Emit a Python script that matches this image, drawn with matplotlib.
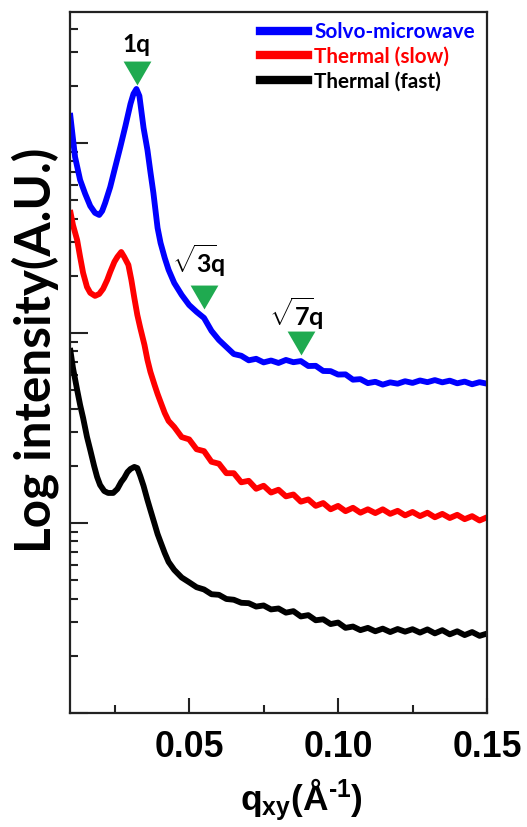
import matplotlib
matplotlib.use("Agg")
import matplotlib.pyplot as plt
import numpy as np
from matplotlib.ticker import LogLocator, NullFormatter, FixedLocator
from matplotlib.lines import Line2D

# ---------------- data (log10 intensity, arbitrary units) ----------------
q_tail = [0.045, 0.0475, 0.05, 0.0525, 0.055, 0.0575, 0.06, 0.0625, 0.065, 0.0675,
          0.07, 0.0725, 0.075, 0.0775, 0.08, 0.0825, 0.085, 0.0875, 0.09, 0.0925,
          0.095, 0.0975, 0.10, 0.1025, 0.105, 0.1075, 0.11, 0.1125, 0.115, 0.1175,
          0.12, 0.1225, 0.125, 0.1275, 0.13, 0.1325, 0.135, 0.1375, 0.14, 0.1425,
          0.145, 0.1475, 0.15]

q_blue_head = [0.0100, 0.0117, 0.0134, 0.0151, 0.0168, 0.0184, 0.0198, 0.0208, 0.0218,
               0.0235, 0.0252, 0.0269, 0.0286, 0.0303, 0.0313, 0.0323, 0.0333, 0.0347,
               0.0360, 0.0370, 0.0380, 0.0394, 0.0404, 0.0418, 0.0431]
logI_blue_head = [3.158, 2.926, 2.805, 2.732, 2.668, 2.632, 2.621, 2.642, 2.684,
                  2.768, 2.874, 2.979, 3.089, 3.205, 3.258, 3.284, 3.247, 3.079,
                  2.963, 2.847, 2.737, 2.553, 2.474, 2.395, 2.332]
logI_blue_tail = [2.263, 2.200, 2.147, 2.111, 2.079, 2.011, 1.963, 1.926, 1.889, 1.880,
                  1.856, 1.864, 1.845, 1.855, 1.842, 1.858, 1.846, 1.852, 1.826, 1.827,
                  1.800, 1.799, 1.781, 1.782, 1.754, 1.757, 1.736, 1.743, 1.728, 1.740,
                  1.733, 1.746, 1.737, 1.750, 1.741, 1.752, 1.740, 1.749, 1.735, 1.744,
                  1.730, 1.741, 1.733]

q_red_head = [0.0100, 0.0110, 0.0124, 0.0134, 0.0144, 0.0157, 0.0168, 0.0184, 0.0198,
              0.0211, 0.0225, 0.0235, 0.0249, 0.0259, 0.0272, 0.0282, 0.0296, 0.0306,
              0.0316, 0.0326, 0.0336, 0.0350, 0.0360, 0.0370, 0.0384, 0.0394, 0.0404,
              0.0418, 0.0431]
logI_red_head = [2.647, 2.568, 2.489, 2.400, 2.316, 2.242, 2.211, 2.195, 2.205,
                 2.232, 2.279, 2.321, 2.374, 2.400, 2.426, 2.400, 2.358, 2.279,
                 2.184, 2.095, 2.026, 1.937, 1.858, 1.795, 1.726, 1.679, 1.637,
                 1.579, 1.537]
logI_red_tail = [1.505, 1.452, 1.440, 1.388, 1.378, 1.322, 1.312, 1.262, 1.262, 1.214,
                 1.222, 1.180, 1.196, 1.160, 1.175, 1.140, 1.150, 1.112, 1.124, 1.090,
                 1.105, 1.072, 1.090, 1.062, 1.080, 1.054, 1.072, 1.052, 1.072, 1.048,
                 1.064, 1.040, 1.058, 1.036, 1.054, 1.030, 1.048, 1.026, 1.043, 1.020,
                 1.036, 1.013, 1.030]

q_black_head = [0.0100, 0.0110, 0.0124, 0.0134, 0.0144, 0.0157, 0.0168, 0.0181, 0.0191,
                0.0201, 0.0215, 0.0228, 0.0245, 0.0259, 0.0272, 0.0282, 0.0293, 0.0303,
                0.0316, 0.0326, 0.0336, 0.0347, 0.0360, 0.0370, 0.0384, 0.0394, 0.0404,
                0.0418, 0.0431]
logI_black_head = [1.921, 1.816, 1.700, 1.621, 1.553, 1.453, 1.384, 1.300, 1.242,
                   1.200, 1.168, 1.158, 1.158, 1.179, 1.216, 1.237, 1.268, 1.284,
                   1.295, 1.289, 1.247, 1.195, 1.121, 1.068, 0.995, 0.942, 0.900,
                   0.842, 0.795]
logI_black_tail = [0.753, 0.713, 0.688, 0.662, 0.650, 0.625, 0.622, 0.600, 0.596, 0.580,
                   0.578, 0.560, 0.566, 0.545, 0.550, 0.528, 0.536, 0.508, 0.515, 0.488,
                   0.493, 0.468, 0.476, 0.448, 0.455, 0.436, 0.448, 0.430, 0.444, 0.426,
                   0.442, 0.428, 0.441, 0.423, 0.440, 0.419, 0.436, 0.414, 0.430, 0.410,
                   0.426, 0.406, 0.418]

series_labels = ["Solvo-microwave", "Thermal (slow)", "Thermal (fast)"]
series_colors = ["#0000ff", "#ff0000", "#000000"]

peak_labels = [r"1q", r"$\sqrt{3}\!$q", r"$\sqrt{7}\!$q"]
peak_q = [0.0326, 0.0551, 0.0875]
peak_marker_logI = [3.368, 2.189, 1.945]
peak_text_q = [0.0323, 0.0532, 0.0860]
peak_text_logI = [3.516, 2.379, 2.100]

xticks = [0.05, 0.10, 0.15]
xtick_labels = ["0.05", "0.10", "0.15"]
xminor = [0.025, 0.075, 0.125]

# ---------------- figure ----------------
plt.rcParams["mathtext.fontset"] = "custom"
plt.rcParams["mathtext.rm"] = "Lato:bold"
plt.rcParams["mathtext.bf"] = "Lato:bold"
plt.rcParams["mathtext.it"] = "Lato:bold"

W, H = 527, 827
fig = plt.figure(figsize=(W / 100, H / 100), dpi=100)
L, R, B, T = 70, 487, 713, 12
ax = fig.add_axes([L / W, 1 - B / H, (R - L) / W, (B - T) / H])

curves = [
    (q_blue_head + q_tail, logI_blue_head + logI_blue_tail),
    (q_red_head + q_tail, logI_red_head + logI_red_tail),
    (q_black_head + q_tail, logI_black_head + logI_black_tail),
]
for (qq, ll), c, lab in zip(curves[::-1], series_colors[::-1], series_labels[::-1]):
    ax.plot(qq, 10 ** np.array(ll), color=c, lw=4.2, label=lab,
            solid_joinstyle="round", solid_capstyle="butt")

ax.set_yscale("log")
ax.set_xlim(0.01, 0.15)
ax.set_ylim(1, 10 ** 3.689)

tri = [(-1, 0.86), (1, 0.86), (0, -0.86)]
for pq, pl in zip(peak_q, peak_marker_logI):
    ax.plot([pq], [10 ** pl], marker=tri, markersize=20, color="#1faa50",
            markeredgewidth=0, linestyle="none")
ann_texts = []
for lab, tq, tl in zip(peak_labels, peak_text_q, peak_text_logI):
    t = ax.text(tq, 10 ** tl, lab, ha="center", va="center", fontsize=17,
                fontweight="bold", family="Lato", color="black")
    ann_texts.append(t)

# ticks
ax.set_xticks(xticks)
ax.set_xticklabels(xtick_labels)
ax.xaxis.set_minor_locator(FixedLocator(xminor))
ax.yaxis.set_major_locator(LogLocator(base=10, numticks=10))
ax.yaxis.set_minor_locator(LogLocator(base=10, subs=np.arange(2, 10), numticks=20))
ax.yaxis.set_major_formatter(NullFormatter())
ax.yaxis.set_minor_formatter(NullFormatter())
ax.tick_params(axis="both", which="both", direction="in", width=1.5, color="#222222")
ax.tick_params(axis="x", which="major", length=11, pad=12)
ax.tick_params(axis="x", which="minor", length=6)
ax.tick_params(axis="y", which="major", length=13)
ax.tick_params(axis="y", which="minor", length=6)
ax.tick_params(top=False, right=False)
for lbl in ax.get_xticklabels():
    lbl.set_fontfamily("Liberation Sans")
    lbl.set_fontweight("bold")
    lbl.set_fontsize(24)
for s in ax.spines.values():
    s.set_linewidth(1.6)
    s.set_color("#222222")

# labels
ylab = fig.text(35 / W, 1 - 350 / H, "Log intensity(A.U.)", rotation=90, ha="center",
                va="center", fontsize=28, fontweight="bold", family="Lato")
xlab = fig.text(301 / W, 1 - 800 / H,
                "q$_{\\mathregular{xy}}$(Å$^{\\mathregular{\u2010 1}}$)",
                ha="center", va="center", fontsize=26, fontweight="bold",
                family="Liberation Sans")


def fit(t, target, vertical=False):
    fig.canvas.draw()
    bb = t.get_window_extent()
    w = bb.height if vertical else bb.width
    t.set_fontsize(t.get_fontsize() * target / w)


# legend font size from measured target width of the first entry
probe = fig.text(0.5, 0.5, series_labels[0], fontsize=15, fontweight="bold", family="Lato")
fit(probe, 162)
leg_size = probe.get_fontsize()
probe.remove()
leg_px = leg_size * 100 / 72

handles = [Line2D([0], [0], color=c, lw=6) for c in series_colors]
leg = ax.legend(handles, series_labels, loc="upper left",
                bbox_to_anchor=((260 - L) / (R - L), (B - 22) / (B - T)),
                frameon=False, borderpad=0, borderaxespad=0,
                handlelength=48 / leg_px, handletextpad=6 / leg_px,
                labelspacing=(29 - 1.17 * leg_px) / leg_px,
                prop={"family": "Lato", "weight": "bold", "size": leg_size},
                labelcolor=series_colors)

fit(ylab, 405, vertical=True)
fit(xlab, 123)
for t, w in zip(ann_texts, [28, 53, 54]):
    fit(t, w)
fig.canvas.draw()
w0 = ax.get_xticklabels()[0].get_window_extent().width
for lbl in ax.get_xticklabels():
    lbl.set_fontsize(lbl.get_fontsize() * 70 / w0)

fig.savefig("out.png", dpi=100)
